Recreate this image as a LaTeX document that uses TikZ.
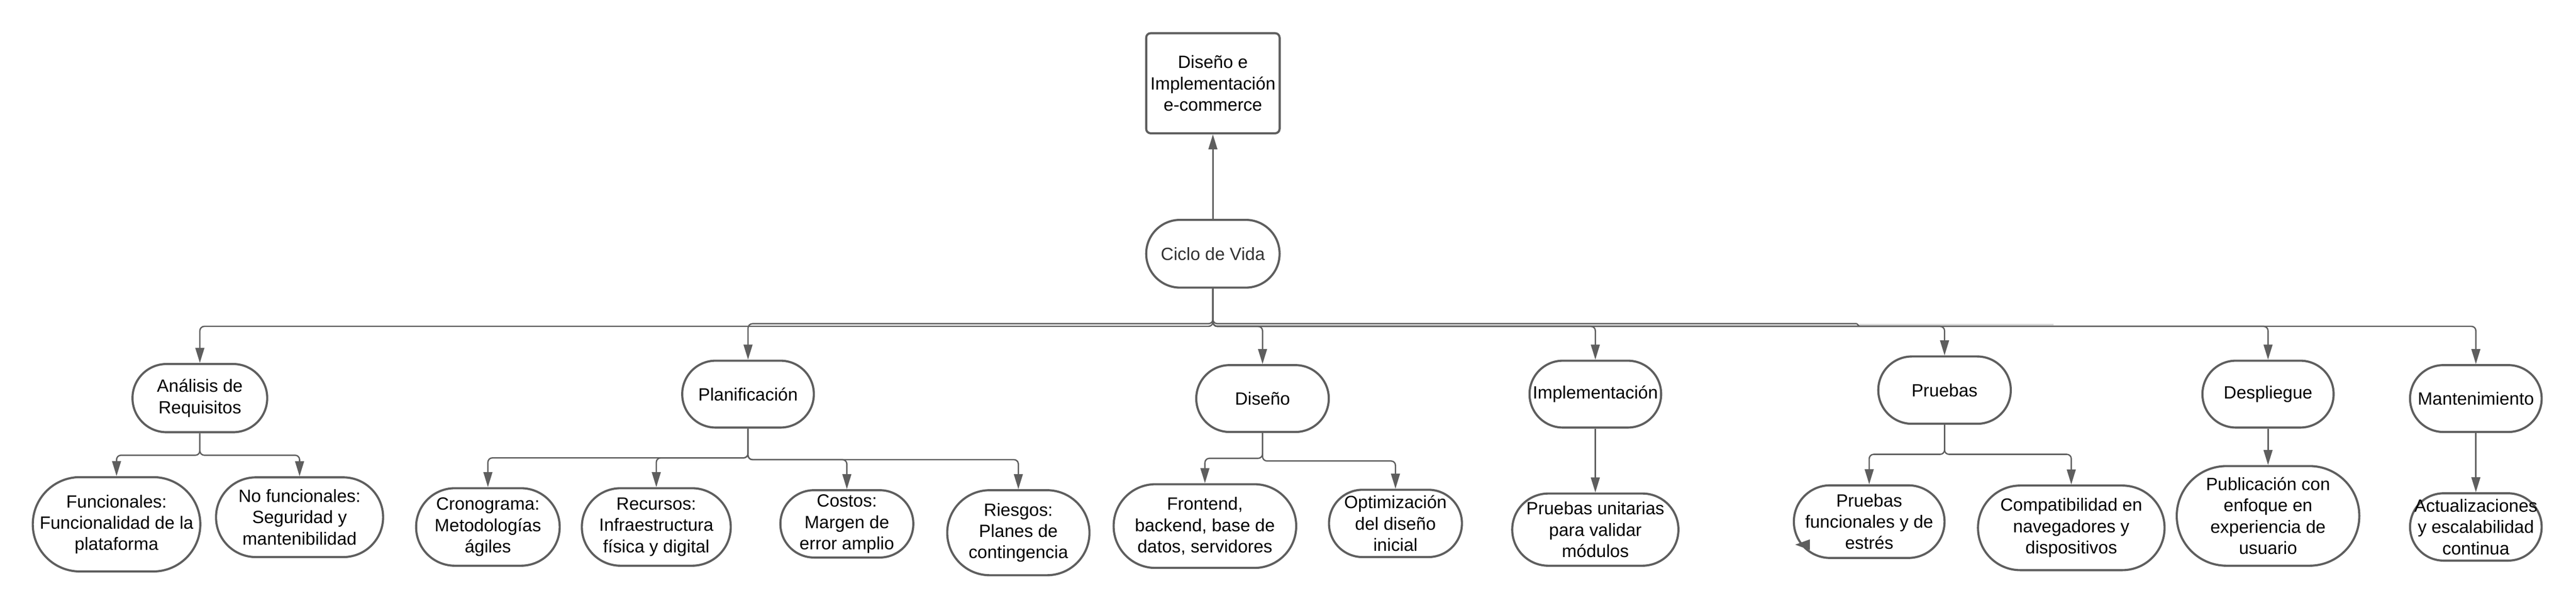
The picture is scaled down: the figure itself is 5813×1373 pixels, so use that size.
\documentclass[tikz,border=0pt]{standalone}
\usepackage{fontspec}
\setmainfont{Liberation Sans}
\usetikzlibrary{arrows.meta}
\definecolor{lc}{HTML}{5E5E5E}
\definecolor{tc}{HTML}{333333}
\begin{document}
\begin{tikzpicture}[x=0.25pt,y=-0.25pt,
  pill/.style 2 args={draw=lc, line width=1.2pt, fill=white, rectangle,
    rounded corners=#2*0.125pt-0.05pt, minimum width=#1*0.25pt,
    minimum height=#2*0.25pt, inner sep=1pt, align=center,
    font=\fontsize{10}{12}\selectfont, text=black},
  box/.style 2 args={draw=lc, line width=1.2pt, fill=white, rectangle,
    rounded corners=2.5pt, minimum width=#1*0.25pt,
    minimum height=#2*0.25pt, inner sep=1pt, align=center,
    font=\fontsize{10}{12}\selectfont, text=black},
  conn/.style={draw=lc, line width=0.75pt, rounded corners=2.5pt,
    -{Triangle[length=8.5pt,width=5pt]}},
  bar/.style={draw=lc, line width=0.75pt, rounded corners=2.5pt},
]
\useasboundingbox (0,0) rectangle (5813,1373);

% bus levels
\coordinate (bus1) at (0,737);
\coordinate (bus0) at (0,731);
\coordinate (sbA) at (0,1028);
\coordinate (sbPl) at (0,1034);
\coordinate (sbPr) at (0,1038);
\coordinate (sbDl) at (0,1035);
\coordinate (sbDr) at (0,1041);
\coordinate (sbPu) at (0,1026);

% nodes
\node[box={301}{226}] (top) at (2737,188) {Diseño e\\Implementación\\e-commerce};
\node[pill={301}{153}, text=tc] (ciclo) at (2737,573) {Ciclo de Vida};

\node[pill={304}{154}] (analisis) at (451,899) {Análisis de\\Requisitos};
\node[pill={378}{213}] (func) at (263,1184) {Funcionales:\\Funcionalidad de la\\plataforma};
\node[pill={377}{180}] (nofunc) at (676,1168) {No funcionales:\\Seguridad y\\mantenibilidad};

\node[pill={297}{151}] (plan) at (1688,890) {Planificación};
\node[pill={324}{175}] (cron) at (1101,1190) {Cronograma:\\Metodologías\\ágiles};
\node[pill={336}{175}] (rec) at (1481,1190) {Recursos:\\Infraestructura\\física y digital};
\node[pill={300}{152}] (cost) at (1911,1183) {Costos:\\Margen de\\error amplio};
\node[pill={321}{192}] (ries) at (2298,1203) {Riesgos:\\Planes de\\contingencia};

\node[pill={299}{151}] (diseno) at (2849,900) {Diseño};
\node[pill={412}{189}] (front) at (2719,1188) {Frontend,\\backend, base de\\datos, servidores};
\node[pill={300}{152}] (optim) at (3149,1182) {Optimización\\del diseño\\inicial};

\node[pill={297}{151}] (impl) at (3600,890) {Implementación};
\node[pill={375}{163}] (unit) at (3600,1196) {Pruebas unitarias\\para validar\\módulos};

\node[pill={299}{152}] (pruebas) at (4388,881) {Pruebas};
\node[pill={340}{164}] (pfunc) at (4218,1178) {Pruebas\\funcionales y de\\estrés};
\node[pill={421}{191}] (compat) at (4674,1192) {Compatibilidad en\\navegadores y\\dispositivos};

\node[pill={296}{151}] (despl) at (5118,890) {Despliegue};
\node[pill={412}{225}] (publ) at (5118,1165) {Publicación con\\enfoque en\\experiencia de\\usuario};

\node[pill={297}{151}] (mant) at (5587,900) {Mantenimiento};
\node[pill={297}{152}] (act) at (5587,1190) {Actualizaciones\\y escalabilidad\\continua};

% main connectors
\draw[conn] (ciclo.north) -- (top.south);
\draw[conn] (ciclo.south) |- (analisis.north |- bus1) -- (analisis.north);
\draw[conn] (ciclo.south) |- (plan.north |- bus0) -- (plan.north);
\draw[conn] (ciclo.south) |- (diseno.north |- bus1) -- (diseno.north);
\draw[conn] (ciclo.south) |- (impl.north |- bus1) -- (impl.north);
\draw[conn] (ciclo.south) |- (pruebas.north |- bus1) -- (pruebas.north);
\draw[conn] (ciclo.south) |- (despl.north |- bus1) -- (despl.north);
\draw[conn] (ciclo.south) |- (mant.north |- bus1) -- (mant.north);
% upper parallel line on the right
\coordinate (jog) at (4190,731);
\coordinate (jogb) at (4196,737);
\draw[bar] (ciclo.south) |- (jog);
\draw[draw=lc, line width=0.75pt] (jog) -- (jogb);
\coordinate (fa) at (4196,733);
\coordinate (fb) at (4634,733);
\draw[draw=lc!25, line width=0.6pt] (fa) -- (fb);

% sub connectors
\draw[conn] (analisis.south) |- (func.north |- sbA) -- (func.north);
\draw[conn] (analisis.south) |- (nofunc.north |- sbA) -- (nofunc.north);

\draw[conn] (plan.south) |- (cron.north |- sbPl) -- (cron.north);
\draw[conn] (plan.south) |- (rec.north |- sbPl) -- (rec.north);
\draw[conn] (plan.south) |- (cost.north |- sbPr) -- (cost.north);
\draw[conn] (plan.south) |- (ries.north |- sbPr) -- (ries.north);

\draw[conn] (diseno.south) |- (front.north |- sbDl) -- (front.north);
\draw[conn] (diseno.south) |- (optim.north |- sbDr) -- (optim.north);

\draw[conn] (impl.south) -- (unit.north);

\draw[conn] (pruebas.south) |- (pfunc.north |- sbPu) -- (pfunc.north);
\draw[conn] (pruebas.south) |- (compat.north |- sbPu) -- (compat.north);

\draw[conn] (despl.south) -- (publ.north);
\draw[conn] (mant.south) -- (act.north);

% stray arrowhead on the left edge of "Pruebas funcionales"
\coordinate (sa) at (4051,1230);
\coordinate (sb) at (4084,1218);
\coordinate (sc) at (4084,1242);
\fill[lc] (sa) -- (sb) -- (sc) -- cycle;
\end{tikzpicture}
\end{document}
